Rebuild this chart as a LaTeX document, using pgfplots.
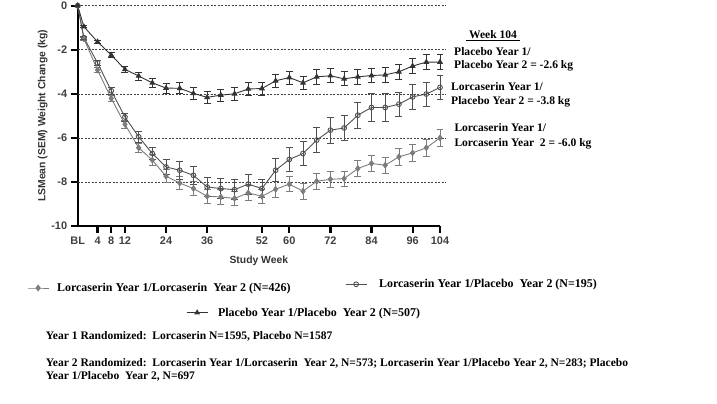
\documentclass[border=0pt]{standalone}
\usepackage{fontspec}
\setmainfont{Liberation Serif}
\setsansfont{Liberation Sans}
\usepackage{pgfplots}
\pgfplotsset{compat=1.18}
\usepackage{pgfplotstable}

\definecolor{pp}{HTML}{333333}
\definecolor{lp}{HTML}{505050}
\definecolor{ll}{HTML}{7C7C7C}

\pgfplotstableread{
x y e
-1.8 0 0
0 -0.95 0.05
4 -1.64 0.07
8 -2.24 0.1
12 -2.89 0.15
16 -3.19 0.18
20 -3.5 0.2
24 -3.74 0.22
28 -3.75 0.25
32 -3.98 0.27
36 -4.16 0.28
40 -4.06 0.28
44 -4.0 0.28
48 -3.78 0.3
52 -3.76 0.3
56 -3.41 0.3
60 -3.26 0.3
64 -3.5 0.3
68 -3.23 0.32
72 -3.18 0.32
76 -3.32 0.32
80 -3.23 0.33
84 -3.17 0.33
88 -3.14 0.33
92 -3.0 0.33
96 -2.74 0.33
100 -2.56 0.35
104 -2.56 0.35
}\tpp

\pgfplotstableread{
x y e
-1.8 0 0
0 -1.45 0.06
4 -2.6 0.12
8 -3.86 0.15
12 -5.05 0.18
16 -5.95 0.25
20 -6.71 0.28
24 -7.32 0.33
28 -7.47 0.4
32 -7.7 0.4
36 -8.23 0.43
40 -8.3 0.45
44 -8.35 0.45
48 -8.1 0.45
52 -8.3 0.42
56 -7.47 0.52
60 -6.98 0.55
64 -6.71 0.55
68 -6.1 0.58
72 -5.65 0.58
76 -5.55 0.58
80 -4.97 0.6
84 -4.62 0.62
88 -4.62 0.62
92 -4.47 0.55
96 -4.14 0.55
100 -4.01 0.55
104 -3.71 0.55
}\tlp

\pgfplotstableread{
x y e
-1.8 0 0
0 -1.5 0.06
4 -2.92 0.12
8 -4.21 0.15
12 -5.38 0.18
16 -6.45 0.22
20 -7.01 0.25
24 -7.74 0.3
28 -8.05 0.3
32 -8.3 0.32
36 -8.65 0.33
40 -8.68 0.33
44 -8.75 0.33
48 -8.5 0.33
52 -8.65 0.33
56 -8.33 0.35
60 -8.1 0.35
64 -8.42 0.35
68 -7.97 0.35
72 -7.88 0.35
76 -7.85 0.35
80 -7.39 0.37
84 -7.16 0.37
88 -7.24 0.37
92 -6.86 0.37
96 -6.68 0.37
100 -6.45 0.37
104 -6.0 0.37
}\tll

\pgfplotsset{
  ppstyle/.style={color=pp, line width=0.9pt, mark=triangle*, mark size=2.6pt, mark options={fill=pp, draw=pp, solid}},
  lpstyle/.style={color=lp, line width=0.9pt, mark=o, mark size=2.4pt, mark options={fill=white, draw=lp, line width=0.9pt, solid}},
  llstyle/.style={color=ll, line width=0.9pt, mark=diamond*, mark size=2.8pt, mark options={fill=ll, draw=ll, solid}},
  ebars/.style={error bars/.cd, y dir=both, y explicit, error mark=-, error bar style={line width=0.8pt}, error mark options={rotate=90, mark size=3.5pt, line width=0.8pt}},
  leg/.style={hide axis, scale only axis, width=1bp, height=1bp, xmin=0, xmax=1, ymin=0, ymax=1, anchor=south west,
    legend image code/.code={\draw[mark repeat=2,mark phase=2,##1] plot coordinates {(0cm,0cm) (0.37cm,0cm) (0.74cm,0cm)};},
    legend style={at={(0,0)}, anchor=west, draw=none, fill=none, inner sep=0pt,
      font=\fontsize{12}{12}\selectfont\bfseries, legend cell align=left}},
}

\begin{document}
\begin{tikzpicture}
\path[use as bounding box] (0,0) rectangle (717bp,404bp);
\begin{axis}[
  at={(77.7bp,178bp)}, anchor=south west,
  scale only axis, width=362.3bp, height=220.3bp,
  xmin=-1.8, xmax=104, ymin=-10, ymax=0,
  axis x line*=bottom, axis y line*=left,
  axis line style={line width=2.4pt, black, -},
  xtick={4,8,12,24,36,52,60,72,84,96,104},
  xticklabels={4,8,12,24,36,52,60,72,84,96,104},
  extra x ticks={-1.8}, extra x tick labels={BL},
  extra x tick style={major tick length=0pt, xticklabel style={yshift=-7bp}},
  ytick={0,-2,-4,-6,-8,-10},
  yticklabels={0,-2,-4,-6,-8,-10},
  tick style={line width=2.2pt, black},
  tick align=outside, major tick length=7bp,
  ticklabel style={font=\sffamily\bfseries\fontsize{11}{11}\selectfont, text=black!75},
  /pgf/number format/assume math mode=true,
  clip=false,
  xlabel={Study Week}, ylabel={LSMean (SEM) Weight Change (kg)},
  label style={font=\sffamily\bfseries\fontsize{10.4}{11}\selectfont, text=black!80},
  xlabel style={yshift=2bp},
  ylabel style={yshift=-3bp},
]
\pgfplotsinvokeforeach{0,-2,-4,-6,-8}{
  \draw[black!75, line width=0.6pt, dash pattern=on 2bp off 1.5bp] (axis cs:-1.8,#1) -- (axis cs:105.8,#1);
}
\addplot[llstyle, ebars] table[x=x, y=y, y error=e] {\tll};
\addplot[lpstyle, ebars] table[x=x, y=y, y error=e] {\tlp};
\addplot[ppstyle, ebars] table[x=x, y=y, y error=e] {\tpp};
\end{axis}

% legends
\begin{axis}[leg, at={(27bp,116bp)}]
\addlegendimage{llstyle}\addlegendentry{\hspace*{6bp}Lorcaserin Year 1/Lorcaserin\ \ Year 2 (N=426)}
\end{axis}
\begin{axis}[leg, at={(345bp,119.7bp)}]
\addlegendimage{lpstyle}\addlegendentry{\hspace*{10bp}Lorcaserin Year 1/Placebo\ \ Year 2 (N=195)}
\end{axis}
\begin{axis}[leg, at={(186bp,91.3bp)}]
\addlegendimage{ppstyle}\addlegendentry{\hspace*{8bp}Placebo Year 1/Placebo\ \ Year 2 (N=507)}
\end{axis}

\begin{scope}[every node/.style={inner sep=0pt, font=\fontsize{11.6}{12}\selectfont\bfseries}]
\node[anchor=base] at (493bp,404bp-39bp) {\underline{\ Week 104\ }};
\node[anchor=base west] at (454bp,404bp-55.3bp) {Placebo Year 1/};
\node[anchor=base west] at (454bp,404bp-69bp) {Placebo Year 2 = -2.6 kg};
\node[anchor=base west] at (451bp,404bp-90.7bp) {Lorcaserin Year 1/};
\node[anchor=base west] at (451bp,404bp-104.7bp) {Placebo Year 2 = -3.8 kg};
\node[anchor=base west] at (454.3bp,404bp-131.7bp) {Lorcaserin Year 1/};
\node[anchor=base west] at (454.3bp,404bp-146.7bp) {Lorcaserin Year\ \ 2 = -6.0 kg};
\node[anchor=base west] at (45.7bp,404bp-340bp) {Year 1 Randomized:\ \ Lorcaserin N=1595, Placebo N=1587};
\node[anchor=base west] at (45.7bp,404bp-366.5bp) {Year 2 Randomized:\ \ Lorcaserin Year 1/Lorcaserin\ \ Year 2, N=573; Lorcaserin Year 1/Placebo Year 2, N=283; Placebo};
\node[anchor=base west] at (45.7bp,404bp-379.5bp) {Year 1/Placebo\ \ Year 2, N=697};
\end{scope}
\end{tikzpicture}
\end{document}
